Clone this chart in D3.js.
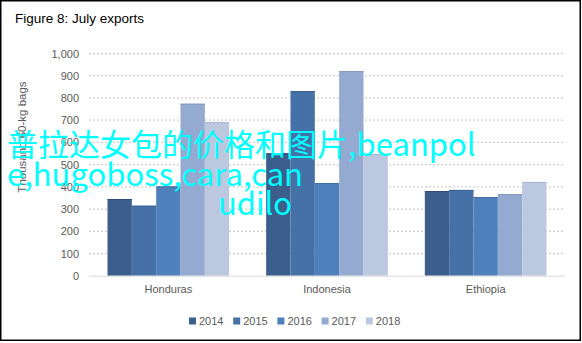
<!DOCTYPE html>
<html>
<head>
<meta charset="utf-8">
<script src="https://cdn.jsdelivr.net/npm/d3@7"></script>
<style>
  html, body { margin: 0; padding: 0; background: #fff; }
  svg { display: block; }
</style>
</head>
<body>
<div id="chart"></div>
<script>
const title = 'Figure 8: July exports';
const yTitle = 'Thousand 60-kg bags';
const categories = ['Honduras', 'Indonesia', 'Ethiopia'];
const years = ['2014', '2015', '2016', '2017', '2018'];
// values per year, in category order
const v2014 = [345, 551, 381];
const v2015 = [315, 831, 386];
const v2016 = [402, 417, 354];
const v2017 = [774, 921, 367];
const v2018 = [691, 548, 422];
const yTicks = [0, 100, 200, 300, 400, 500, 600, 700, 800, 900, 1000];
const overlayLines = ['普拉达女包的价格和图片,beanpol', 'e,hugoboss,cara,can', 'udilo'];

const series = [v2014, v2015, v2016, v2017, v2018];
const colors = ['#3b5e8c', '#4571a6', '#4f80bc', '#94aad0', '#bcc8e0'];
const edge = ['#2f4d75', '#3a6291', '#426fa6', '#8399bf', '#a9b6d0'];

const W = 582, H = 343;
const svg = d3.select('#chart').append('svg')
  .attr('width', W).attr('height', H);

// frame
svg.append('rect')
  .attr('x', 0.75).attr('y', 0.75)
  .attr('width', 579.5).attr('height', 339.5)
  .attr('fill', '#fff').attr('stroke', '#000').attr('stroke-width', 1.5);

svg.append('text')
  .attr('x', 15).attr('y', 23)
  .attr('font-family', 'Liberation Sans, Arial, sans-serif')
  .attr('font-size', 13.5)
  .attr('fill', '#000')
  .text(title);

const plotL = 89, plotR = 565, plotT = 53.5, plotB = 275.7;

const y = d3.scaleLinear().domain([0, 1000]).range([plotB, plotT]);
const x0 = d3.scaleBand().domain(categories).range([plotL, plotR]);
const x1 = d3.scaleBand().domain(years).range([0, x0.bandwidth()]).paddingOuter(0.76);

// gridlines
svg.append('g')
  .selectAll('line')
  .data(yTicks.filter(d => d > 0))
  .enter().append('line')
  .attr('x1', plotL).attr('x2', plotR)
  .attr('y1', d => y(d)).attr('y2', d => y(d))
  .attr('stroke', '#d0d0d0')
  .attr('stroke-width', 1.3)
  .attr('stroke-dasharray', '2,2');

// y axis labels
const yAxis = svg.append('g')
  .attr('transform', `translate(${plotL - 10},0)`)
  .call(d3.axisLeft(y).tickValues(yTicks).tickSize(0).tickPadding(0).tickFormat(d3.format(',')));
yAxis.select('.domain').remove();
yAxis.selectAll('text')
  .attr('font-family', 'Liberation Sans, Arial, sans-serif')
  .attr('font-size', 11)
  .attr('fill', '#595959');

svg.append('text')
  .attr('transform', 'translate(26,137) rotate(-90)')
  .attr('text-anchor', 'middle')
  .attr('font-family', 'Liberation Sans, Arial, sans-serif')
  .attr('font-size', 11.5)
  .attr('fill', '#595959')
  .text(yTitle);

// bars
years.forEach((yr, i) => {
  const g = svg.append('g');
  g.selectAll('rect')
    .data(series[i])
    .enter().append('rect')
    .attr('x', (d, j) => x0(categories[j]) + x1(yr))
    .attr('y', d => y(d))
    .attr('width', x1.bandwidth())
    .attr('height', d => y(0) - y(d))
    .attr('fill', colors[i]);
  g.selectAll('line')
    .data(series[i])
    .enter().append('line')
    .attr('x1', (d, j) => x0(categories[j]) + x1(yr))
    .attr('x2', (d, j) => x0(categories[j]) + x1(yr) + x1.bandwidth())
    .attr('y1', d => y(d) + 0.5).attr('y2', d => y(d) + 0.5)
    .attr('stroke', edge[i]).attr('stroke-width', 1);
});

// x axis
svg.append('line')
  .attr('x1', plotL).attr('x2', plotR)
  .attr('y1', plotB + 0.5).attr('y2', plotB + 0.5)
  .attr('stroke', '#d9d9d9').attr('stroke-width', 1);

const xAxis = svg.append('g')
  .attr('transform', `translate(0,${plotB + 6})`)
  .call(d3.axisBottom(x0).tickSize(0).tickPadding(4));
xAxis.select('.domain').remove();
xAxis.selectAll('text')
  .attr('font-family', 'Liberation Sans, Arial, sans-serif')
  .attr('font-size', 11)
  .attr('fill', '#595959');

// legend
const legend = svg.append('g').attr('transform', 'translate(189,321)');
const item = legend.selectAll('g')
  .data(years)
  .enter().append('g')
  .attr('transform', (d, i) => `translate(${i * 44.2},0)`);
item.append('rect')
  .attr('x', 0).attr('y', -3.5)
  .attr('width', 7).attr('height', 7)
  .attr('fill', (d, i) => colors[i]);
item.append('text')
  .attr('x', 10).attr('y', 4)
  .attr('font-family', 'Liberation Sans, Arial, sans-serif')
  .attr('font-size', 11)
  .attr('fill', '#595959')
  .text(d => d);

// overlay text
const overlayPos = [[7, 156], [7, 186], [218, 215]];
svg.append('g')
  .selectAll('text')
  .data(overlayLines)
  .enter().append('text')
  .attr('x', (d, i) => overlayPos[i][0])
  .attr('y', (d, i) => overlayPos[i][1])
  .attr('font-family', '"Noto Sans CJK SC", "Noto Sans", sans-serif')
  .attr('font-size', 31)
  .attr('fill', '#00ffff')
  .text(d => d);
</script>
</body>
</html>
